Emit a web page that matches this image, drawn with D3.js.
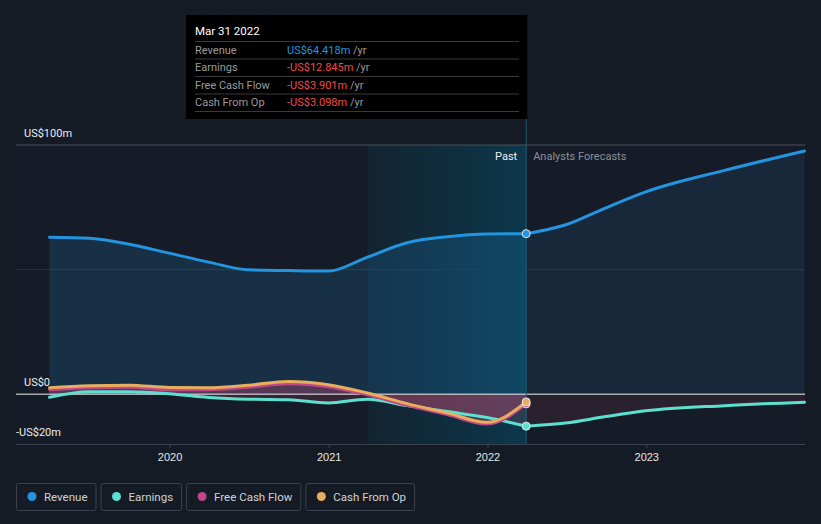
<!DOCTYPE html>
<html><head><meta charset="utf-8">
<script src="https://cdn.jsdelivr.net/npm/d3@7"></script>
<style>
html,body{margin:0;padding:0;background:#151b25;}
svg{display:block;font-family:Roboto,"Noto Sans",sans-serif;}
</style></head>
<body><svg id="c" width="821" height="524"></svg>
<script>
// ---- data ----
const pastDates = ["2019-03-31","2019-06-30","2019-09-30","2019-12-31","2020-03-31","2020-06-30","2020-09-30","2020-12-31","2021-03-31","2021-06-30","2021-09-30","2021-12-31","2022-03-31"];
const revenuePast = [63.0,62.6,60.2,56.6,53.0,49.9,49.6,49.4,55.0,60.8,63.2,64.3,64.418];
const earningsPast = [-1.2,1.0,1.0,0.2,-1.3,-2.0,-2.2,-3.5,-2.0,-4.6,-7.0,-9.4,-12.845];
const fcfPast = [1.8,2.6,2.8,1.8,1.8,2.8,4.2,3.0,-0.3,-4.5,-8.2,-12.0,-3.901];
const cfoPast = [2.6,3.4,3.6,2.7,2.6,3.6,5.1,3.8,0.5,-3.8,-7.5,-11.3,-3.098];
const fcDates = ["2022-03-31","2022-06-30","2022-09-30","2022-12-31","2023-06-30","2023-12-31"];
const revenueFc = [64.418,68.0,74.8,81.2,89.8,97.6];
const earningsFc = [-12.845,-11.6,-9.0,-6.7,-4.6,-3.2];
const yearTicks = ["2020","2021","2022","2023"];
const yLabels = [{v:100,t:"US$100m"},{v:0,t:"US$0"},{v:-20,t:"-US$20m"}];
const seriesNames = ["Revenue","Earnings","Free Cash Flow","Cash From Op"];
const seriesColors = ["#2394df","#5ce0cf","#c2478a","#e8ae5e"];
const tipTitle = "Mar 31 2022";
const tipValues = ["US$64.418m","-US$12.845m","-US$3.901m","-US$3.098m"];

const P = d3.timeParse("%Y-%m-%d");
const svg = d3.select("#c");
const L=16,R=805,T=145,B=444;
const x = d3.scaleTime().domain([new Date(2019,0,13), new Date(2024,0,1)]).range([L,R]);
const y = d3.scaleLinear().domain([-20,100]).range([B,T]);
const mk = (ds,vs)=>ds.map((d,i)=>({d:P(d),v:vs[i]}));
const rev = mk(pastDates,revenuePast), ear = mk(pastDates,earningsPast), fcf = mk(pastDates,fcfPast), cfo = mk(pastDates,cfoPast);
const revF = mk(fcDates,revenueFc), earF = mk(fcDates,earningsFc);
const cutX = x(P("2022-03-31")), hlX = x(P("2021-03-31"));
const curve = d3.curveMonotoneX;
const line = d3.line().x(d=>x(d.d)).y(d=>y(d.v)).curve(curve);
const area = d3.area().x(d=>x(d.d)).y0(y(0)).y1(d=>y(d.v)).curve(curve);

const defs = svg.append("defs");
const g1 = defs.append("linearGradient").attr("id","hl").attr("x1","0").attr("x2","1").attr("y1","0").attr("y2","0");
g1.append("stop").attr("offset","0").attr("stop-color","#0a3a4e").attr("stop-opacity",0.25);
g1.append("stop").attr("offset","1").attr("stop-color","#0a3d52").attr("stop-opacity",0.85);

// plot background
svg.append("rect").attr("x",L).attr("y",T).attr("width",R-L).attr("height",B-T).attr("fill","#161c27");
// highlight past year
svg.append("rect").attr("x",hlX).attr("y",T).attr("width",cutX-hlX).attr("height",B-T).attr("fill","url(#hl)");

// gridlines
svg.append("line").attr("x1",L).attr("x2",R).attr("y1",y(100)).attr("y2",y(100)).attr("stroke","#4a505b").attr("stroke-width",1);
svg.append("line").attr("x1",L).attr("x2",R).attr("y1",y(50)).attr("y2",y(50)).attr("stroke","#2a313c").attr("stroke-width",1);

// areas
svg.append("path").datum(rev).attr("d",area).attr("fill","#2394df").attr("opacity",0.17);
svg.append("path").datum(revF).attr("d",area).attr("fill","#2394df").attr("opacity",0.1);
[ear,fcf,cfo].forEach(s=>svg.append("path").datum(s).attr("d",area).attr("fill","#e0507a").attr("opacity",0.16));
svg.append("path").datum(earF).attr("d",area).attr("fill","#e0507a").attr("opacity",0.1);

// zero line
svg.append("line").attr("x1",L).attr("x2",R).attr("y1",y(0)).attr("y2",y(0)).attr("stroke","#f2f2f2").attr("stroke-width",1);
// bottom axis
const xa = svg.append("g").attr("transform",`translate(0,${B})`)
  .call(d3.axisBottom(x).tickValues(yearTicks.map(t=>new Date(+t,0,1))).tickFormat(d3.timeFormat("%Y")).tickSize(4).tickSizeOuter(0));
xa.select(".domain").attr("stroke","#3c424d").attr("d",`M${L},0.5H${R}`);
xa.selectAll(".tick line").attr("stroke","#3c424d");
xa.selectAll(".tick text").attr("fill","#e6e6e6").attr("font-size",11).attr("dy","0.95em");

// vertical cut line
svg.append("line").attr("x1",cutX).attr("x2",cutX).attr("y1",15).attr("y2",B).attr("stroke","#1f5d73").attr("stroke-width",1);

// lines
const lines = [[rev,0],[revF,0],[ear,1],[earF,1],[fcf,2],[cfo,3]];
lines.forEach(([s,i])=>svg.append("path").datum(s).attr("d",line).attr("fill","none").attr("stroke",seriesColors[i]).attr("stroke-width",3).attr("stroke-linecap","round"));

// end dots
[[rev,0],[ear,1],[fcf,2],[cfo,3]].forEach(([s,i])=>{const p=s[s.length-1];
  svg.append("circle").attr("cx",x(p.d)).attr("cy",y(p.v)).attr("r",4).attr("fill",seriesColors[i]).attr("stroke","#e8e8e8").attr("stroke-width",1);});

// y labels
yLabels.forEach(l=>svg.append("text").attr("x",l.v<0?16:24).attr("y",y(l.v)-8).attr("fill","#ececec").attr("font-size",11).text(l.t));
svg.append("text").attr("x",cutX-9).attr("y",160).attr("text-anchor","end").attr("fill","#f0f0f0").attr("font-size",11).text("Past");
svg.append("text").attr("x",cutX+7).attr("y",160).attr("fill","#8a8f98").attr("font-size",11).text("Analysts Forecasts");

// tooltip
const tx=186, ty=15, tw=cutX-tx+1, th=104;
svg.append("rect").attr("x",tx).attr("y",ty).attr("width",tw).attr("height",th).attr("fill","#000");
svg.append("text").attr("x",195).attr("y",35).attr("fill","#fff").attr("font-size",11.5).text(tipTitle);
seriesNames.forEach((n,i)=>{
  const ry = 41 + i*17.5;
  svg.append("line").attr("x1",195).attr("x2",519).attr("y1",ry+0.5).attr("y2",ry+0.5).attr("stroke","#3a3a3a");
  svg.append("text").attr("x",195).attr("y",ry+12.5).attr("fill","#9a9a9a").attr("font-size",11).text(n);
  const t = svg.append("text").attr("x",287).attr("y",ry+12.5).attr("font-size",11);
  t.append("tspan").attr("fill",i===0?"#2394df":"#f04848").text(tipValues[i]);
  t.append("tspan").attr("fill","#9a9a9a").text(" /yr");
});
svg.append("line").attr("x1",195).attr("x2",519).attr("y1",111.5).attr("y2",111.5).attr("stroke","#3a3a3a");

// legend
const lg = svg.append("g");
let lx = 16;
seriesNames.forEach((n,i)=>{
  const g = lg.append("g");
  const t = g.append("text").attr("x",lx+28).attr("y",500.5).attr("fill","#cfd2d6").attr("font-size",11.5).text(n);
  const w = t.node().getComputedTextLength()+36;
  g.insert("rect","text").attr("x",lx+0.5).attr("y",483.5).attr("width",w).attr("height",27).attr("rx",2).attr("fill","none").attr("stroke","#3c424c");
  g.append("circle").attr("cx",lx+16).attr("cy",496.5).attr("r",4.5).attr("fill",seriesColors[i]);
  lx += w+5;
});
</script></body></html>
